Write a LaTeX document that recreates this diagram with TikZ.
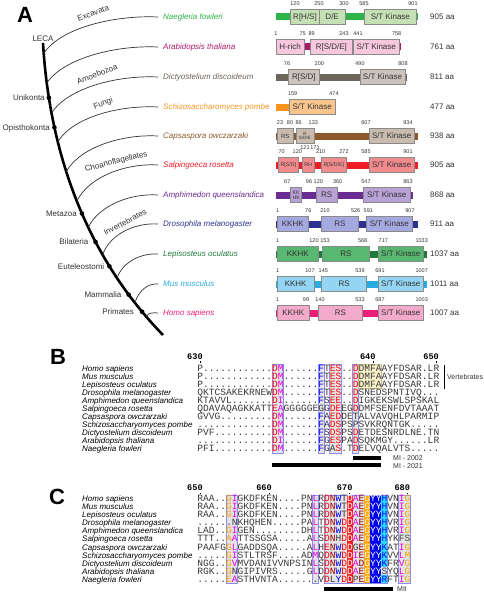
\documentclass[tikz,border=0pt]{standalone}
\usepackage{fontspec}
\setmainfont{Liberation Sans}
\newfontfamily\alnfont{Liberation Mono}
\usetikzlibrary{calc}

\definecolor{cNae}{HTML}{2DB34A}\definecolor{fNae}{HTML}{C6E0B5}
\definecolor{cAra}{HTML}{A8196A}\definecolor{fAra}{HTML}{F6C7DD}
\definecolor{cDic}{HTML}{6E665D}\definecolor{fDic}{HTML}{CBC4BC}
\definecolor{cSch}{HTML}{F7941D}\definecolor{fSch}{HTML}{FBC68E}
\definecolor{cCap}{HTML}{8C5A2C}\definecolor{fCap}{HTML}{C9BCAF}
\definecolor{cSal}{HTML}{EE1D25}\definecolor{fSal}{HTML}{F28B8D}
\definecolor{cAmp}{HTML}{6A2D91}\definecolor{fAmp}{HTML}{B9A2D6}
\definecolor{cDro}{HTML}{2E3192}\definecolor{fDro}{HTML}{A4A9E0}
\definecolor{cLep}{HTML}{1E7B3C}\definecolor{fLep}{HTML}{58B770}
\definecolor{cMus}{HTML}{29ABE2}\definecolor{fMus}{HTML}{93D5F2}
\definecolor{cHom}{HTML}{EC1E79}\definecolor{fHom}{HTML}{F4AACA}
\definecolor{txt}{HTML}{333333}
\definecolor{domEdge}{HTML}{8A8A8A}
\definecolor{alGray}{HTML}{3A3A3A}
\definecolor{alRed}{HTML}{FF0000}
\definecolor{alMag}{HTML}{E600E6}
\definecolor{alBlue}{HTML}{0000FF}
\definecolor{alOrg}{HTML}{F5A300}
\definecolor{alMar}{HTML}{990000}
\definecolor{alBox}{HTML}{E4E4E4}
\definecolor{alEdge}{HTML}{8C8CF0}
\definecolor{alYel}{HTML}{FAF2C8}
\definecolor{alYelE}{HTML}{C8BA86}
\definecolor{alRedF}{HTML}{FF1A1A}
\definecolor{alOrgF}{HTML}{FFA500}
\definecolor{alBlueF}{HTML}{0000F0}
\definecolor{alCyan}{HTML}{1FE3FF}

\newcommand{\alR}[1]{\textcolor{alRed}{#1}}
\newcommand{\alM}[1]{\textcolor{alMag}{#1}}
\newcommand{\alB}[1]{\textcolor{alBlue}{#1}}
\newcommand{\alO}[1]{\textcolor{alOrg}{#1}}
\newcommand{\alN}[1]{\textcolor{alMar}{#1}}
\newcommand{\alW}[1]{\textcolor{white}{#1}}
\ExplSyntaxOn
\NewDocumentCommand\dts{m}{\prg_replicate:nn{#1}{.}}
\ExplSyntaxOff

\newcounter{domc}\newcounter{numc}
\newcommand{\dombx}[6][8]{%
  \draw[dombox,fill=#5] (#2,#4-7.5) rectangle (#3,#4+7.5);
  \stepcounter{domc}%
  \node[domlab,font=\fontsize{#1}{#1}\selectfont] (dom\arabic{domc}) at ({(#2+#3)/2},#4) {#6};}
\newcommand{\numl}[3]{\stepcounter{numc}\node[numlab] (num\arabic{numc}) at (#1,#2) {#3};}

\begin{document}
\begin{tikzpicture}[x=1pt,y=-1pt,
  trunk/.style={line width=2.6pt,black},
  branch/.style={line width=0.7pt,draw=txt},
  splab/.style={anchor=west,inner sep=0pt,font=\fontsize{8}{9}\selectfont\itshape,text height=5.8pt,text depth=0pt},
  cladelab/.style={inner sep=0pt,font=\fontsize{8}{9}\selectfont,text=txt,text height=5.8pt,text depth=0pt},
  dombox/.style={draw=domEdge,line width=0.5pt},
  domlab/.style={inner sep=0pt,text=txt,align=center},
  numlab/.style={inner sep=0pt,font=\fontsize{5.5}{6}\selectfont,text=txt},
  aalab/.style={anchor=west,inner sep=0pt,font=\fontsize{8}{9}\selectfont,text=txt,text height=5.8pt,text depth=0pt},
  panlab/.style={inner sep=0pt,font=\fontsize{22}{22}\selectfont\bfseries},
  alsp/.style={anchor=base west,inner sep=0pt,font=\fontsize{8}{9}\selectfont\itshape,text=black,text height=5.8pt,text depth=1.5pt},
  alrow/.style={anchor=base west,inner sep=0pt,font=\alnfont\fontsize{9.6}{9.6}\selectfont,text=alGray,text height=5.8pt,text depth=1.5pt},
  alnum/.style={anchor=base east,inner sep=0pt,font=\alnfont\bfseries\fontsize{8.6}{9}\selectfont,text=black},
  aledge/.style={draw=alEdge,line width=0.6pt},
  smalllab/.style={anchor=west,inner sep=0pt,font=\fontsize{7}{8}\selectfont,text=txt,text height=5pt,text depth=0pt}]
\useasboundingbox (0,0) rectangle (484,594);
\fill[white] (0,0) rectangle (484,594);

% ---------- Panel A : tree ----------
\node[panlab] (pA) at (25,15) {A};
\node[splab,text=cNae] (sNae) at (163,17) {Naegleria fowleri};
\node[splab,text=cAra] (sAra) at (163,47) {Arabidopsis thaliana};
\node[splab,text=cDic] (sDic) at (163,77) {Dictyostelium discoideum};
\node[splab,text=cSch] (sSch) at (163,107) {Schizosaccharomyces pombe};
\node[splab,text=cCap] (sCap) at (163,136) {Capsaspora owczarzaki};
\node[splab,text=cSal] (sSal) at (163,165) {Salpingoeca rosetta};
\node[splab,text=cAmp] (sAmp) at (163,195) {Amphimedon queenslandica};
\node[splab,text=cDro] (sDro) at (163,224) {Drosophila melanogaster};
\node[splab,text=cLep] (sLep) at (163,254) {Lepisosteus oculatus};
\node[splab,text=cMus] (sMus) at (163,284) {Mus musculus};
\node[splab,text=cHom] (sHom) at (163,313) {Homo sapiens};

\draw[trunk] (43,43) .. controls (50,160) and (90,260) .. (163,335)
  coordinate[pos=0.03] (bNae) coordinate[pos=0.116] (bAra) coordinate[pos=0.206] (bDic)
  coordinate[pos=0.295] (bSch) coordinate[pos=0.39] (bCap) coordinate[pos=0.488] (bSal)
  coordinate[pos=0.578] (bAmp) coordinate[pos=0.677] (bDro) coordinate[pos=0.765] (bLep)
  coordinate[pos=0.863] (bMus) coordinate[pos=0.92] (bHom)
  coordinate[pos=0.16] (dUni) coordinate[pos=0.25] (dOpi) coordinate[pos=0.53] (dMet)
  coordinate[pos=0.63] (dBil) coordinate[pos=0.72] (dEut) coordinate[pos=0.83] (dMam)
  coordinate[pos=0.9] (dPri);

\draw[branch] (bNae) .. controls ($(bNae)+(17,-26)$) and ($(sNae.west)+(-48,-2)$) .. ([xshift=-5pt]sNae.west);
\draw[branch] (bAra) .. controls ($(bAra)+(17,-25)$) and ($(sAra.west)+(-47,-2)$) .. ([xshift=-5pt]sAra.west);
\draw[branch] (bDic) .. controls ($(bDic)+(16,-25)$) and ($(sDic.west)+(-46,-2)$) .. ([xshift=-5pt]sDic.west);
\draw[branch] (bSch) .. controls ($(bSch)+(15,-25)$) and ($(sSch.west)+(-43,-2)$) .. ([xshift=-5pt]sSch.west);
\draw[branch] (bCap) .. controls ($(bCap)+(14,-25)$) and ($(sCap.west)+(-40,-2)$) .. ([xshift=-5pt]sCap.west);
\draw[branch] (bSal) .. controls ($(bSal)+(12,-25)$) and ($(sSal.west)+(-36,-2)$) .. ([xshift=-5pt]sSal.west);
\draw[branch] (bAmp) .. controls ($(bAmp)+(11,-22)$) and ($(sAmp.west)+(-32,-2)$) .. ([xshift=-5pt]sAmp.west);
\draw[branch] (bDro) .. controls ($(bDro)+(8,-22)$) and ($(sDro.west)+(-26,-1.5)$) .. ([xshift=-5pt]sDro.west);
\draw[branch] (bLep) .. controls ($(bLep)+(6,-17)$) and ($(sLep.west)+(-21,-1)$) .. ([xshift=-5pt]sLep.west);
\draw[branch] (bMus) .. controls ($(bMus)+(4,-13)$) and ($(sMus.west)+(-14,-1)$) .. ([xshift=-5pt]sMus.west);
\draw[branch] (bHom) .. controls ($(bHom)+(2,-4)$) and ($(sHom.west)+(-9,-0.5)$) .. ([xshift=-5pt]sHom.west);

\foreach \d in {dUni,dOpi,dMet,dBil,dEut,dMam,dPri} \fill (\d) circle[radius=2.3pt];
\node[cladelab,anchor=south] (lLECA) at (43,41.5) {LECA};
\node[cladelab,anchor=east] (lUni) at ([xshift=-4pt]dUni) {Unikonta};
\node[cladelab,anchor=east] (lOpi) at ([xshift=-4.5pt]dOpi) {Opisthokonta};
\node[cladelab,anchor=east] (lMet) at ([xshift=-5pt]dMet) {Metazoa};
\node[cladelab,anchor=east] (lBil) at ([xshift=-7pt]dBil) {Bilateria};
\node[cladelab,anchor=east] (lEut) at ([xshift=-5pt]dEut) {Euteleostomi};
\node[cladelab,anchor=east] (lMam) at ([xshift=-7pt]dMam) {Mammalia};
\node[cladelab,anchor=east] (lPri) at ([xshift=-8pt]dPri) {Primates};
\node[cladelab,rotate=20] (tExc) at (93,13) {Excavata};
\node[cladelab,rotate=21] (tAmo) at (97,74) {Amoebozoa};
\node[cladelab,rotate=22] (tFun) at (103,103) {Fungi};
\node[cladelab,rotate=14] (tCho) at (116,161) {Choanoflagellates};
\node[cladelab,rotate=27] (tInv) at (125,222) {Invertebrates};

% ---------- Panel A : domains ----------
% Naegleria
\fill[cNae] (276,13.5) rectangle (418,20.5);
\dombx{290.7}{319.3}{17}{fNae}{R[H/S]}
\dombx{319.3}{345}{17}{fNae}{D/E}
\dombx{364}{416.7}{17}{fNae}{S/T Kinase}
\numl{295}{3.5}{120}\numl{319}{3.5}{250}\numl{344}{3.5}{300}\numl{364}{3.5}{585}\numl{413}{3.5}{901}
\node[aalab] (aNae) at (430,17) {905 aa};
% Arabidopsis
\fill[cAra] (276,43.5) rectangle (400.7,50.5);
\dombx{276}{304.3}{47}{fAra}{H-rich}
\dombx{310}{352.7}{47}{fAra}{R[S/D/E]}
\dombx{353.3}{399.3}{47}{fAra}{S/T Kinase}
\numl{276}{33.5}{1}\numl{302.7}{33.5}{75}\numl{311.7}{33.5}{89}\numl{344}{33.5}{243}\numl{358}{33.5}{441}\numl{396.7}{33.5}{758}
\node[aalab] (aAra) at (430,47) {761 aa};
% Dictyostelium
\fill[cDic] (276,73.5) rectangle (407,80.5);
\dombx{288.3}{319.3}{77}{fDic}{R[S/D]}
\dombx{360}{405}{77}{fDic}{S/T Kinase}
\numl{287}{63.5}{76}\numl{319.3}{63.5}{200}\numl{360}{63.5}{490}\numl{403}{63.5}{808}
\node[aalab] (aDic) at (430,77) {811 aa};
% Schizosaccharomyces
\fill[cSch] (276,103.5) rectangle (336,110.5);
\dombx{289.3}{335}{107}{fSch}{S/T Kinase}
\numl{292.7}{93.5}{159}\numl{334}{93.5}{474}
\node[aalab] (aSch) at (430,107) {477 aa};
% Capsaspora
\fill[cCap] (276,132.5) rectangle (418,139.5);
\dombx[6]{277.3}{293.3}{136}{fCap}{RS}
\dombx[4.6]{296}{314}{136}{fCap}{R\\S/D/E}
\dombx{369}{414.3}{136}{fCap}{S/T Kinase}
\numl{280}{122.5}{23}\numl{290}{122.5}{80}\numl{298.7}{122.5}{86}\numl{313.3}{122.5}{133}\numl{366}{122.5}{607}\numl{408}{122.5}{934}
\numl{305}{147.5}{121}\numl{315}{147.5}{171}
\node[aalab] (aCap) at (430,136) {938 aa};
% Salpingoeca
\fill[cSal] (276,161.5) rectangle (417.7,168.5);
\dombx[5.3]{278.3}{298.3}{165}{fSal}{R[S/D]}
\dombx[5.3]{302.3}{314}{165}{fSal}{RH}
\dombx[5.3]{321.7}{346}{165}{fSal}{R[S/D/E]}
\dombx{369}{414.3}{165}{fSal}{S/T Kinase}
\numl{281.7}{151.5}{70}\numl{297.3}{151.5}{120}\numl{320.7}{151.5}{210}\numl{344}{151.5}{272}\numl{366}{151.5}{585}\numl{408}{151.5}{901}
\node[aalab] (aSal) at (430,165) {905 aa};
% Amphimedon
\fill[cAmp] (276,191.5) rectangle (412.7,198.5);
\dombx[5.3]{290.7}{301.7}{195}{fAmp}{KK\\HK}
\dombx{316}{337.3}{195}{fAmp}{RS}
\dombx{363.3}{410}{195}{fAmp}{S/T Kinase}
\numl{287.3}{181.5}{67}\numl{309}{181.5}{96}\numl{318.3}{181.5}{120}\numl{337.7}{181.5}{360}\numl{366}{181.5}{547}\numl{408}{181.5}{863}
\node[aalab] (aAmp) at (430,195) {868 aa};
% Drosophila
\fill[cDro] (276,220.5) rectangle (417.7,227.5);
\dombx{277.3}{308.3}{224}{fDro}{KKHK}
\dombx{321.7}{358.3}{224}{fDro}{RS}
\dombx{366}{412.7}{224}{fDro}{S/T Kinase}
\numl{277.7}{210.5}{1}\numl{308.3}{210.5}{76}\numl{325}{210.5}{210}\numl{355.7}{210.5}{526}\numl{368.3}{210.5}{591}\numl{410}{210.5}{907}
\node[aalab] (aDro) at (430,224) {911 aa};
% Lepisosteus
\fill[cLep] (276,250.5) rectangle (427.3,257.5);
\dombx{277.3}{318.3}{254}{fLep}{KKHK}
\dombx{322.7}{369.3}{254}{fLep}{RS}
\dombx{378.3}{423.3}{254}{fLep}{S/T Kinase}
\numl{277.7}{240.5}{1}\numl{314}{240.5}{120}\numl{325}{240.5}{153}\numl{362.7}{240.5}{568}\numl{383.3}{240.5}{717}\numl{421.7}{240.5}{1033}
\node[aalab] (aLep) at (430,254) {1037 aa};
% Mus
\fill[cMus] (276,280.5) rectangle (427.3,287.5);
\dombx{277.3}{314}{284}{fMus}{KKHK}
\dombx{321.7}{366.7}{284}{fMus}{RS}
\dombx{378.3}{423.3}{284}{fMus}{S/T Kinase}
\numl{277.7}{270.5}{1}\numl{310}{270.5}{107}\numl{323.3}{270.5}{145}\numl{360}{270.5}{539}\numl{380}{270.5}{691}\numl{421.7}{270.5}{1007}
\node[aalab] (aMus) at (430,284) {1011 aa};
% Homo
\fill[cHom] (276,309.5) rectangle (424,316.5);
\dombx{277.3}{309.3}{313}{fHom}{KKHK}
\dombx{318.3}{362.7}{313}{fHom}{RS}
\dombx{378.3}{423.3}{313}{fHom}{S/T Kinase}
\numl{277.7}{299.5}{1}\numl{306}{299.5}{99}\numl{320}{299.5}{140}\numl{360}{299.5}{533}\numl{380}{299.5}{687}\numl{421.7}{299.5}{1003}
\node[aalab] (aHom) at (430,313) {1007 aa};

% ---------- Panel B ----------
\node[panlab] (pB) at (58,357) {B};
\foreach \nm [count=\k from 0] in {Homo sapiens,Mus musculus,Lepisosteus oculatus,Drosophila melanogaster,Amphimedon queenslandica,Salpingoeca rosetta,Capsaspora owczarzaki,Schizosaccharyomyces pombe,Dictyostelium discoideum,Arabidopsis thaliana,Naegleria fowleri}
  \node[alsp] (bS\k) at (82,{371.4+8.05*\k}) {\nm};

\fill[alBox] (272.0,364.5) rectangle (283.52,453.05);
\fill[alBox] (318.08,364.5) rectangle (323.84,453.05);
\fill[alBox] (329.6,364.5) rectangle (341.12,453.05);
\fill[alBox] (352.64,364.5) rectangle (358.4,453.05);
\fill[alYel] (358.4,364.5) rectangle (381.44,388.65);
\draw[aledge] (272.0,364.5) rectangle (283.52,453.05);
\draw[aledge] (318.08,364.5) rectangle (323.84,453.05);
\draw[aledge] (329.6,364.5) rectangle (341.12,453.05);
\draw[aledge] (352.64,364.5) rectangle (358.4,453.05);
\draw[draw=alYelE,line width=0.6pt] (358.4,364.5) rectangle (381.44,388.65);

\node[alnum] (b630) at (202.88,359.6) {630};
\node[alnum] (b640) at (375.68,359.6) {640};
\node[alnum] (b650) at (439.04,359.6) {650};
\draw[line width=0.6pt] (200,361.4) -- (200,363.4);
\draw[line width=0.6pt] (372.8,361.4) -- (372.8,363.4);
\draw[line width=0.6pt] (436.16,361.4) -- (436.16,363.4);

\node[alrow] (bR0) at (197.12,371.4) {P\dts{12}\alR{D}\alM{M}\dts{6}\alB{F}T\alR{ES}\dts{2}\alR{D}DMFAAYFDSAR.LR};
\node[alrow] (bR1) at (197.12,379.45) {P\dts{12}\alR{D}\alM{M}\dts{6}\alB{F}T\alR{ES}\dts{2}\alR{D}DMFAAYFDSAR.LR};
\node[alrow] (bR2) at (197.12,387.5) {P\dts{12}\alR{D}\alM{M}\dts{6}\alB{F}T\alR{ES}\dts{2}\alR{D}DMFAAYFDSAR.LR};
\node[alrow] (bR3) at (197.12,395.55) {QKTCSAKEKRNEW\alR{D}\alM{M}\dts{6}\alB{F}T\alR{ES}\dts{2}\alR{D}SNEDSPNTIVQ\dts{3}};
\node[alrow] (bR4) at (197.12,403.6) {KTAVVL\dts{7}\alR{D}\alM{I}\dts{6}\alB{F}S\alR{EE}\dts{2}\alR{D}IGKEKSWLSPSKAL};
\node[alrow] (bR5) at (197.12,411.65) {QDAVAQAGKKATT\alR{E}\alM{A}GGGGGEGG\alR{DE}EG\alR{D}DMFSENFDVTAAAT};
\node[alrow] (bR6) at (197.12,419.7) {GVVG\dts{9}\alR{D}\alM{M}\dts{6}\alB{F}A\alR{ED}DETALVAVQHLPARMIP};
\node[alrow] (bR7) at (197.12,427.75) {\dts{13}\alR{D}\alM{M}\dts{6}\alB{F}A\alR{DS}PSPSVKRQNTGK\dts{5}};
\node[alrow] (bR8) at (197.12,435.8) {PVF\dts{10}\alR{D}\alM{M}\dts{6}\alB{F}S\alR{DS}PS\alR{D}ETDESNRDLNE.TN};
\node[alrow] (bR9) at (197.12,443.85) {\dts{13}\alR{D}\alM{I}\dts{6}\alB{F}G\alR{ES}PA\alR{D}SQKMGY\dts{6}LR};
\node[alrow] (bR10) at (197.12,451.9) {PFI\dts{10}\alR{D}\alM{M}\dts{6}\alB{F}GA\alR{S}.T\alR{D}ELVQALVTS\dts{5}};

\draw[line width=0.7pt] (444,364.5) -- (444,388.6);
\node[smalllab] (vert) at (447,376.5) {Vertebrates};
\fill (352.64,456) rectangle (381.44,460);
\fill (272.0,463) rectangle (381.44,467);
\node[smalllab] (mi02) at (393,458) {MI - 2002};
\node[smalllab] (mi21) at (393,465.5) {MI - 2021};

% ---------- Panel C ----------
\node[panlab] (pC) at (57,497) {C};
\foreach \nm [count=\k from 0] in {Homo sapiens,Mus musculus,Lepisosteus oculatus,Drosophila melanogaster,Amphimedon queenslandica,Salpingoeca rosetta,Capsaspora owczarzaki,Schizosaccharyomyces pombe,Dictyostelium discoideum,Arabidopsis thaliana,Naegleria fowleri}
  \node[alsp] (cS\k) at (82,{501.7+8.05*\k}) {\nm};

\fill[alBox] (225.92,494.8) rectangle (237.44,583.35);
\fill[alBox] (312.32,494.8) rectangle (318.08,583.35);
\fill[alBox] (323.84,494.8) rectangle (346.88,583.35);
\fill[alRedF] (346.88,494.8) rectangle (352.64,583.35);
\fill[alBox] (352.64,494.8) rectangle (364.16,583.35);
\fill[alOrgF] (364.16,494.8) rectangle (369.92,583.35);
\fill[alBlueF] (369.92,494.8) rectangle (381.44,583.35);
\fill[alCyan] (381.44,494.8) rectangle (387.2,567.25);
\fill[alBox] (381.44,567.25) rectangle (387.2,575.3);
\fill[alCyan] (381.44,575.3) rectangle (387.2,583.35);
\fill[alBox] (398.72,494.8) rectangle (410.24,583.35);
\draw[aledge] (225.92,494.8) rectangle (237.44,583.35);
\draw[aledge] (312.32,494.8) rectangle (318.08,583.35);
\draw[aledge] (323.84,494.8) rectangle (387.2,583.35);
\draw[aledge] (398.72,494.8) rectangle (410.24,583.35);

\node[alnum] (c650) at (202.88,490.9) {650};
\node[alnum] (c660) at (272.0,490.9) {660};
\node[alnum] (c670) at (352.64,490.9) {670};
\node[alnum] (c680) at (410.24,490.9) {680};
\draw[line width=0.6pt] (200,492.6) -- (200,494.4);
\draw[line width=0.6pt] (269.12,492.6) -- (269.12,494.4);
\draw[line width=0.6pt] (349.76,492.6) -- (349.76,494.4);
\draw[line width=0.6pt] (407.36,492.6) -- (407.36,494.4);

\node[alrow] (cR0) at (197.12,501.7) {RAA\dts{2}\alO{G}\alM{I}GKDFKEN\dts{4}PN\alM{L}R\alR{D}\alN{N}\alB{W}T\alW{D}\alM{A}\alN{E}\alW{G}\alW{YY}\alB{H}VN\alM{I}\alO{G}};
\node[alrow] (cR1) at (197.12,509.75) {RAA\dts{2}\alO{G}\alM{I}GKDFKEN\dts{4}PN\alM{L}R\alR{D}\alN{N}\alB{W}T\alW{D}\alM{A}\alN{E}\alW{G}\alW{YY}\alB{H}VN\alM{I}\alO{G}};
\node[alrow] (cR2) at (197.12,517.8) {RAA\dts{2}\alO{G}\alM{I}GKDFKEN\dts{4}PN\alM{L}R\alR{D}\alN{N}\alB{W}T\alW{D}\alM{A}\alN{E}\alW{G}\alW{YY}\alB{H}VN\alM{I}\alO{G}};
\node[alrow] (cR3) at (197.12,525.85) {\dts{6}NKHQHEN\dts{5}PA\alM{L}T\alR{D}\alN{N}\alB{W}\alR{D}\alW{D}\alM{A}\alN{E}\alW{G}\alW{YY}\alB{H}VR\alM{I}\alO{G}};
\node[alrow] (cR4) at (197.12,533.9) {LAD\dts{2}\alO{G}\alM{I}GEN\dts{8}DH\alM{L}T\alR{D}\alN{N}\alB{W}\alR{D}\alW{D}\alM{A}\alN{E}\alW{G}\alW{YY}\alB{H}VR\alM{I}\alO{G}};
\node[alrow] (cR5) at (197.12,541.95) {TTT\dts{2}\alO{A}\alM{A}TTSSGSA\dts{5}A\alM{L}S\alR{D}\alN{N}H\alR{D}\alW{D}\alM{A}\alN{E}\alW{G}\alW{YY}\alB{H}YKFS};
\node[alrow] (cR6) at (197.12,550.0) {PAAFG\alO{G}\alM{L}GADDSQA\dts{5}A\alM{L}H\alR{E}\alN{N}\alB{W}\alR{D}\alW{D}G\alN{E}\alW{G}\alW{YY}\alB{K}AT\alM{I}\alO{G}};
\node[alrow] (cR7) at (197.12,558.05) {\dts{5}\alO{G}\alM{I}STLTRSF\dts{4}AD\alM{M}Q\alR{D}\alN{N}\alB{W}\alR{D}\alW{D}\alM{I}\alN{E}\alW{G}\alW{YY}\alB{K}VV\alM{L}\alO{M}};
\node[alrow] (cR8) at (197.12,566.1) {NGG\dts{2}\alO{G}\alM{V}MVDANIVVNPSIN\alM{L}S\alR{D}\alN{N}\alB{W}\alR{D}\alW{D}\alM{A}\alN{D}\alW{G}\alW{YY}\alB{K}FR\alM{V}\alO{G}};
\node[alrow] (cR9) at (197.12,574.15) {RGK\dts{2}\alO{G}NGIPIVRS\dts{5}G\alM{L}D\alR{D}\alN{N}\alB{W}\alR{D}\alW{D}\alM{A}\alN{E}\alW{G}\alW{YY}SYQ\alM{L}\alO{G}};
\node[alrow] (cR10) at (197.12,582.2) {\dts{5}\alO{E}\alM{A}STHVNTA\dts{7}V\alR{D}L\alB{Y}\alR{D}\alW{D}P\alN{E}\alW{G}\alW{YY}\alB{R}FT\alM{I}\alO{G}};

\fill (323.84,587.2) rectangle (393.0,591.2);
\node[smalllab] (mii) at (397,589.2) {MII};
\end{tikzpicture}
\end{document}
